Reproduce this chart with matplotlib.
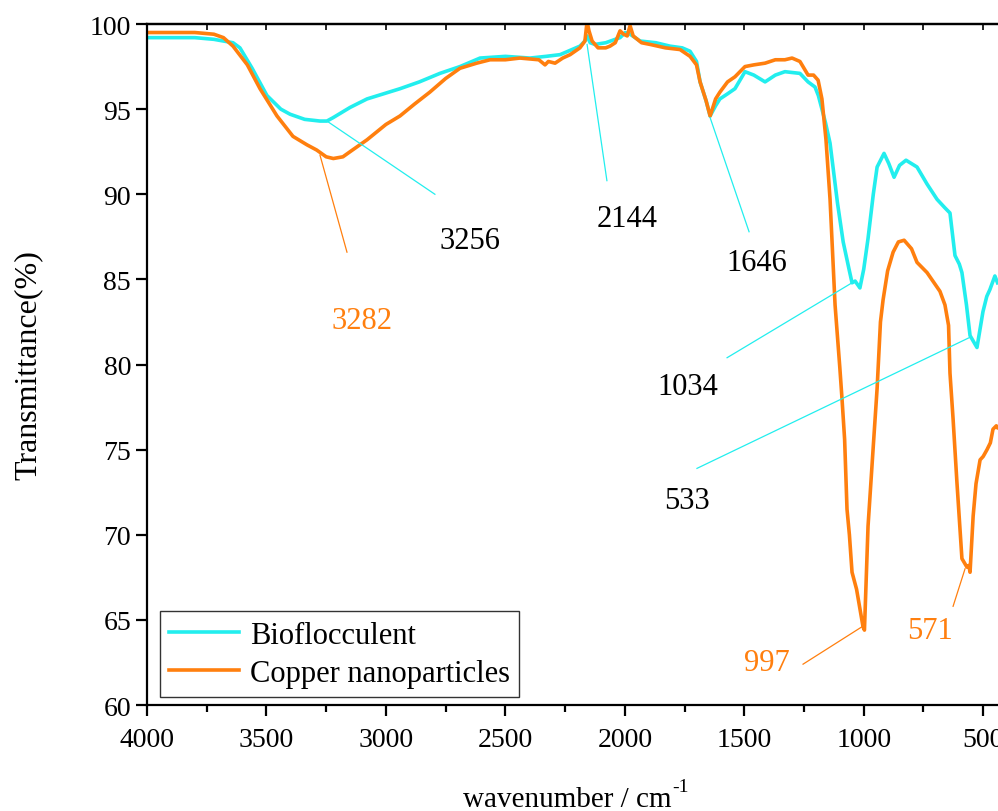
import numpy as np
import matplotlib.pyplot as plt
from matplotlib.ticker import MultipleLocator

plt.rcParams['font.family'] = ['Liberation Serif', 'DejaVu Serif']

# =========================================================
# Data
# =========================================================
bio_w = [4000, 3900, 3800, 3720, 3680, 3640, 3611, 3560, 3498, 3440, 3401, 3340, 3276, 3247,
         3221, 3150, 3079, 3010, 2941, 2860, 2774, 2690, 2606, 2500, 2397, 2330, 2271, 2188,
         2167, 2158, 2145, 2125, 2080, 2040, 2020, 1998, 1978, 1936, 1870, 1811, 1760, 1727,
         1700, 1685, 1660, 1643, 1620, 1602, 1570, 1539, 1497, 1460, 1413, 1370, 1330, 1267,
         1233, 1204, 1190, 1175, 1160, 1141, 1110, 1086, 1060, 1049, 1036, 1016, 1000, 982,
         960, 944, 915, 895, 873, 850, 823, 800, 777, 735, 693, 660, 639, 618, 600, 589,
         570, 555, 526, 501, 485, 472, 451, 440]
bio_t = [99.2, 99.2, 99.2, 99.1, 99.0, 98.9, 98.6, 97.4, 95.8, 95.0, 94.7, 94.4, 94.3, 94.3,
         94.5, 95.1, 95.6, 95.9, 96.2, 96.6, 97.1, 97.5, 98.0, 98.1, 98.0, 98.1, 98.2, 98.7,
         99.0, 99.3, 98.9, 98.8, 98.9, 99.1, 99.2, 99.5, 99.4, 99.0, 98.9, 98.7, 98.6, 98.4,
         97.8, 96.6, 95.5, 94.6, 95.2, 95.6, 95.9, 96.2, 97.2, 97.0, 96.6, 97.0, 97.2, 97.1,
         96.6, 96.3, 95.8, 95.0, 94.2, 93.0, 89.5, 87.2, 85.5, 84.8, 84.9, 84.5, 85.6, 87.4,
         90.0, 91.6, 92.4, 91.8, 91.0, 91.7, 92.0, 91.8, 91.6, 90.6, 89.7, 89.2, 88.9, 86.4,
         85.9, 85.4, 83.5, 81.7, 81.0, 83.1, 84.0, 84.4, 85.2, 84.8]

cu_w = [4000, 3900, 3800, 3720, 3680, 3640, 3580, 3527, 3456, 3389, 3330, 3290, 3250, 3220,
        3180, 3150, 3079, 3000, 2941, 2880, 2816, 2750, 2690, 2620, 2564, 2500, 2439, 2360,
        2334, 2320, 2292, 2260, 2229, 2188, 2167, 2160, 2156, 2150, 2137, 2112, 2080, 2062,
        2040, 2020, 2005, 1990, 1978, 1965, 1930, 1894, 1830, 1769, 1727, 1700, 1685, 1660,
        1643, 1620, 1602, 1570, 1539, 1497, 1460, 1413, 1370, 1330, 1300, 1267, 1233, 1210,
        1191, 1175, 1158, 1141, 1120, 1100, 1091, 1080, 1070, 1060, 1049, 1030, 1003, 997,
        982, 961, 944, 930, 919, 900, 877, 855, 831, 800, 777, 735, 681, 660, 645, 639,
        626, 610, 589, 568, 560, 555, 542, 530, 513, 500, 484, 470, 459, 445, 440]
cu_t = [99.5, 99.5, 99.5, 99.4, 99.2, 98.7, 97.6, 96.2, 94.6, 93.4, 92.9, 92.6, 92.2, 92.1,
        92.2, 92.5, 93.2, 94.1, 94.6, 95.3, 96.0, 96.8, 97.4, 97.7, 97.9, 97.9, 98.0, 97.9,
        97.6, 97.8, 97.7, 98.0, 98.2, 98.6, 99.0, 99.9, 100.0, 99.6, 99.0, 98.6, 98.6, 98.7,
        98.9, 99.6, 99.4, 99.3, 99.9, 99.3, 98.9, 98.8, 98.6, 98.5, 98.1, 97.6, 96.6, 95.5,
        94.6, 95.6, 96.0, 96.6, 96.9, 97.5, 97.6, 97.7, 97.9, 97.9, 98.0, 97.8, 97.0, 97.0,
        96.7, 95.6, 93.2, 89.7, 83.5, 79.8, 78.0, 75.6, 71.5, 70.0, 67.8, 66.8, 64.6, 64.4,
        70.5, 75.0, 78.6, 82.5, 83.8, 85.5, 86.6, 87.2, 87.3, 86.8, 86.0, 85.4, 84.3, 83.5,
        82.3, 79.5, 76.8, 73.1, 68.6, 68.1, 68.2, 67.8, 71.1, 73.0, 74.4, 74.6, 75.0, 75.4,
        76.2, 76.4, 76.3]

# annotations: label, peak point, line end, text position, text colour, line colour
ann_labels = ['3256', '3282', '2144', '1646', '1034', '533', '997', '571']
ann_peak = [(3247, 94.3), (3276, 92.3), (2158, 98.8), (1643, 94.5),
            (1049, 84.8), (555, 81.6), (1007, 64.6), (576, 68.0)]
ann_end = [(2795, 90.0), (3163, 86.6), (2075, 90.8), (1480, 87.8),
           (1572, 80.4), (1698, 73.9), (1254, 62.4), (626, 65.8)]
ann_text = [(2648, 87.3), (3100, 82.6), (1991, 88.6), (1447, 86.0),
            (1736, 78.7), (1740, 72.0), (1405, 62.5), (723, 64.4)]
ann_tcol = ['black', '#FF7F0E', 'black', 'black', 'black', 'black', '#FF7F0E', '#FF7F0E']
ann_lcol = ['#22EEEE', '#FF7F0E', '#22EEEE', '#22EEEE', '#22EEEE', '#22EEEE', '#FF7F0E', '#FF7F0E']

CYAN = '#22EEEE'
ORANGE = '#FF7F0E'

# =========================================================
# Plot
# =========================================================
fig = plt.figure(figsize=(9.98, 8.12), dpi=100)
ax = fig.add_axes([0.1473, 0.1305, 0.8527, 0.8387])

ax.plot(bio_w, bio_t, color=CYAN, lw=2.6, label='Bioflocculent')
ax.plot(cu_w, cu_t, color=ORANGE, lw=2.6, label='Copper nanoparticles')

for lab, p, e, t, tc, lc in zip(ann_labels, ann_peak, ann_end, ann_text, ann_tcol, ann_lcol):
    ax.plot([p[0], e[0]], [p[1], e[1]], color=lc, lw=0.9)
    ax.text(t[0], t[1], lab, color=tc, fontsize=22, ha='center', va='center')

ax.set_xlim(4000, 438)
ax.set_ylim(60, 100)
ax.xaxis.set_major_locator(MultipleLocator(500))
ax.xaxis.set_minor_locator(MultipleLocator(250))
ax.yaxis.set_major_locator(MultipleLocator(5))

for s in ['left', 'bottom', 'top']:
    ax.spines[s].set_linewidth(1.6)
ax.spines['right'].set_visible(False)

ax.tick_params(axis='both', which='major', direction='out', length=8, width=1.6, labelsize=20)
ax.tick_params(axis='x', which='minor', direction='out', length=5, width=1.6)
ax.tick_params(axis='x', which='major', pad=8)

# short inward ticks along the top spine
top = ax.secondary_xaxis('top')
top.xaxis.set_major_locator(MultipleLocator(250))
top.tick_params(direction='in', length=4, width=1.2, labelsize=0, labeltop=False)
top.spines['top'].set_linewidth(1.6)

ax.set_ylabel('Transmittance(%)', fontsize=23, labelpad=34)

# x label written with a plain superscript
fig.text(0.568, 0.006, 'wavenumber / cm', fontsize=21, ha='center', va='baseline')
fig.text(0.674, 0.0246, '-1', fontsize=14, ha='left', va='baseline')

leg = ax.legend(loc='lower left', fontsize=22, frameon=True, fancybox=False,
                borderpad=0.3, handlelength=2.3, handletextpad=0.35, labelspacing=0.3,
                borderaxespad=0.0, bbox_to_anchor=(0.015, 0.012))
leg.get_frame().set_edgecolor('black')
leg.get_frame().set_linewidth(1.0)

fig.savefig('out.png', dpi=100)
